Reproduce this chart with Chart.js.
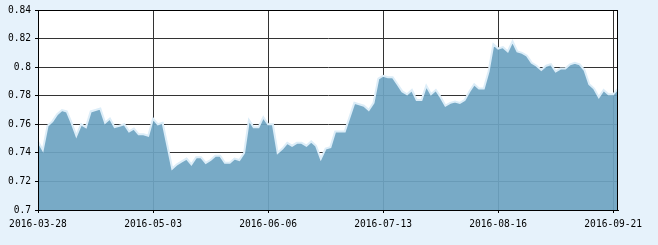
<!DOCTYPE html>
<html>
<head>
<meta charset="utf-8">
<script src="https://cdn.jsdelivr.net/npm/chart.js@4/dist/chart.umd.min.js"></script>
<style>
html,body{margin:0;padding:0;background:#e6f2fb;}
#wrap{width:658px;height:245px;position:relative;}
</style>
</head>
<body>
<div id="wrap"><canvas id="c" width="658" height="245"></canvas></div>
<script>
const dates = [
'2016-03-28','2016-03-29','2016-03-30','2016-03-31','2016-04-01',
'2016-04-05','2016-04-06','2016-04-07','2016-04-08',
'2016-04-11','2016-04-12','2016-04-13','2016-04-14','2016-04-15',
'2016-04-18','2016-04-19','2016-04-20','2016-04-21','2016-04-22',
'2016-04-25','2016-04-26','2016-04-27','2016-04-28','2016-04-29',
'2016-05-03','2016-05-04','2016-05-05','2016-05-06',
'2016-05-09','2016-05-10','2016-05-11','2016-05-12','2016-05-13',
'2016-05-16','2016-05-17','2016-05-18','2016-05-19','2016-05-20',
'2016-05-23','2016-05-24','2016-05-25','2016-05-26','2016-05-27',
'2016-05-30','2016-05-31','2016-06-01','2016-06-02','2016-06-03',
'2016-06-06','2016-06-07',
'2016-06-13','2016-06-14','2016-06-15','2016-06-16','2016-06-17',
'2016-06-20','2016-06-21','2016-06-22','2016-06-23','2016-06-24',
'2016-06-27','2016-06-28','2016-06-29','2016-06-30','2016-07-01',
'2016-07-04','2016-07-05','2016-07-06','2016-07-07','2016-07-08',
'2016-07-11','2016-07-12','2016-07-13','2016-07-14','2016-07-15',
'2016-07-18','2016-07-19','2016-07-20','2016-07-21','2016-07-22',
'2016-07-25','2016-07-26','2016-07-27','2016-07-28','2016-07-29',
'2016-08-01','2016-08-02','2016-08-03','2016-08-04','2016-08-05',
'2016-08-08','2016-08-09','2016-08-10','2016-08-11','2016-08-12',
'2016-08-15','2016-08-16','2016-08-17','2016-08-18','2016-08-19',
'2016-08-22','2016-08-23','2016-08-24','2016-08-25','2016-08-26',
'2016-08-29','2016-08-30','2016-08-31','2016-09-01','2016-09-02',
'2016-09-05','2016-09-06','2016-09-07','2016-09-08','2016-09-09',
'2016-09-12','2016-09-13','2016-09-14',
'2016-09-19','2016-09-20','2016-09-21','2016-09-22'
];
const values = [
0.748,0.742,0.759,0.762,0.767,0.770,0.769,0.761,0.752,0.760,
0.758,0.769,0.770,0.771,0.761,0.764,0.758,0.759,0.760,0.755,
0.757,0.753,0.753,0.752,0.764,0.760,0.761,0.745,0.729,0.732,
0.734,0.736,0.732,0.737,0.737,0.733,0.735,0.738,0.738,0.733,
0.733,0.736,0.735,0.740,0.763,0.758,0.758,0.765,0.760,0.760,
0.740,0.743,0.747,0.745,0.747,0.747,0.745,0.748,0.745,0.736,
0.743,0.744,0.755,0.755,0.755,0.765,0.775,0.774,0.773,0.770,
0.775,0.792,0.794,0.793,0.793,0.788,0.783,0.781,0.784,0.777,
0.777,0.787,0.781,0.784,0.779,0.773,0.775,0.776,0.775,0.777,
0.783,0.788,0.785,0.785,0.797,0.816,0.813,0.814,0.811,0.818,
0.811,0.810,0.808,0.803,0.801,0.798,0.801,0.802,0.797,0.799,
0.799,0.802,0.803,0.802,0.798,0.788,0.785,0.779,0.784,0.781,
0.781,0.785
];
const xTickLabels = ['2016-03-28','2016-05-03','2016-06-06','2016-07-13','2016-08-16','2016-09-21'];
const yTickLabels = ['0.7','0.72','0.74','0.76','0.78','0.8','0.82','0.84'];
const yMin = 0.7, yMax = 0.84, yStep = 0.02;

const frame = {
  id:'frame',
  beforeDraw(chart){
    const {ctx, chartArea:a} = chart;
    ctx.save();
    ctx.fillStyle = '#e6f2fb';
    ctx.fillRect(0,0,chart.width,chart.height);
    ctx.fillStyle = '#ffffff';
    ctx.fillRect(a.left,a.top,a.right-a.left,a.bottom-a.top);
    ctx.restore();
  },
  afterDraw(chart){
    const {ctx, chartArea:a} = chart;
    ctx.save();
    ctx.strokeStyle = '#000';
    ctx.lineWidth = 1;
    ctx.strokeRect(Math.round(a.left)+0.5, Math.round(a.top)+0.5, Math.round(a.right-a.left)-1, Math.round(a.bottom-a.top));
    ctx.restore();
  }
};

const monoFont = {family:'"DejaVu Sans Mono", monospace', size:9.6};

new Chart(document.getElementById('c'), {
  type:'line',
  data:{
    labels: dates,
    datasets:[{
      data: values,
      fill:'start',
      backgroundColor:'rgba(110,164,194,0.93)',
      borderColor:'#dcedf8',
      borderWidth:2,
      pointRadius:0,
      tension:0
    }]
  },
  options:{
    responsive:false,
    animation:false,
    devicePixelRatio:1,
    layout:{padding:{left:0,right:40,top:10,bottom:0}},
    plugins:{legend:{display:false},tooltip:{enabled:false}},
    scales:{
      x:{
        type:'category',
        offset:false,
        border:{display:true,color:'#000',width:1},
        grid:{color:'#333',lineWidth:1,tickLength:3,drawTicks:true,tickColor:'#000'},
        ticks:{
          autoSkip:false,maxRotation:0,minRotation:0,padding:6,
          color:'#000',font:monoFont,
          callback:function(v,i){ const l=this.getLabelForValue(v); return xTickLabels.includes(l)?l:null; }
        },
        afterFit(s){ s.height = 35; }
      },
      y:{
        min:yMin,max:yMax,
        border:{display:true,color:'#000',width:1},
        grid:{color:'#333',lineWidth:1,tickLength:3,tickColor:'#000'},
        ticks:{
          stepSize:yStep,padding:4,color:'#000',font:monoFont,
          callback:(v,i)=>yTickLabels[i]
        },
        afterFit(s){ s.width = 38; }
      }
    }
  },
  plugins:[frame]
});
</script>
</body>
</html>
